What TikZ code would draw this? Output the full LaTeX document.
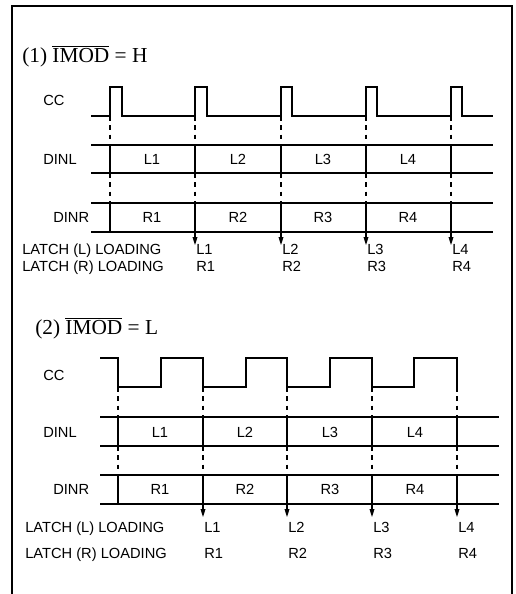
\documentclass[tikz,border=0pt]{standalone}
\usepackage{fontspec}
\setmainfont{Liberation Serif}
\setsansfont{Liberation Sans}
\usetikzlibrary{arrows.meta,positioning}

\begin{document}
\begin{tikzpicture}[
  x=0.75pt, y=-0.75pt,
  wave/.style={line width=1.4pt, line join=miter},
  bus/.style={line width=1.4pt},
  tick/.style={line width=0.8pt},
  guide/.style={line width=0.9pt, dash pattern=on 3.5pt off 3.5pt},
  ptr/.style={line width=0.8pt, -{Triangle[length=6pt,width=3.6pt]}},
  sig/.style={font=\sffamily\fontsize{11}{13}\selectfont, inner sep=0pt, anchor=base west},
  cell/.style={font=\sffamily\fontsize{11}{13}\selectfont, inner sep=0pt},
  title/.style={font=\fontsize{16}{19}\selectfont, inner sep=0pt, anchor=base west}
]
  \useasboundingbox (0,0) rectangle (516,594);

  % frame
  \draw[line width=1.4pt] (12,594) -- (12,6) -- (512,6) -- (512,594);

  % (1) IMOD = H
  \node[title] (title1) at (22,62) {(1) $\overline{\hbox{IMOD}}$ = H};
  \node[sig] (cc1)   at (43,105) {CC};
  \node[sig] (dinl1) at (43,164) {DINL};
  \node[sig] (dinr1) at (53,222) {DINR};
  \node[sig] (latl1) at (22,254) {LATCH (L) LOADING};
  \node[sig] (latr1) at (22,271) {LATCH (R) LOADING};

  \draw[wave] (91,116) -| (110,87) -| (122,116) -| (195,87) -| (207,116)
    -| (281,87) -| (292,116) -| (366,87) -| (377,116) -| (451,87)
    -| (462,116) -- (493,116);
  \draw[bus] (91,145) -- (493,145) (91,173) -- (493,173);
  \draw[bus] (91,203) -- (493,203) (91,232) -- (493,232);

  \foreach \i/\x in {1/110,2/195,3/281,4/366,5/451} {
    \draw[guide] (\x,116) -- (\x,145);
    \draw[tick]  (\x,145) -- (\x,173);
    \draw[guide] (\x,173) -- (\x,203);
    \coordinate (top1\i) at (\x,203);
    \coordinate (tip1\i) at (\x,245);
  }
  \draw[tick] (top11) -- (110,232);
  \foreach \i/\x [count=\j] in {2/195,3/281,4/366,5/451} {
    \draw[ptr] (top1\i) -- (tip1\i);
    \node[sig] (ll1\j) at (\x+1,254) {L\j};
    \node[sig] (rr1\j) at (\x+1,271) {R\j};
  }
  \foreach \j/\x in {1/152,2/238,3/323,4/408} {
    \node[cell] (dl1\j) at (\x,159) {L\j};
    \node[cell] (dr1\j) at (\x,217) {R\j};
  }

  % (2) IMOD = L
  \node[title] (title2) at (35,334) {(2) $\overline{\hbox{IMOD}}$ = L};
  \node[sig] (cc2)   at (43,380) {CC};
  \node[sig] (dinl2) at (43,437) {DINL};
  \node[sig] (dinr2) at (53,494) {DINR};
  \node[sig] (latl2) at (25,532) {LATCH (L) LOADING};
  \node[sig] (latr2) at (25,558) {LATCH (R) LOADING};

  \draw[wave] (100,358) -| (118,387) -| (161,358) -| (203,387) -| (246,358)
    -| (287,387) -| (330,358) -| (372,387) -| (414,358) -| (457,387);
  \draw[bus] (100,417) -- (499,417) (100,446) -- (499,446);
  \draw[bus] (100,475) -- (499,475) (100,504) -- (499,504);

  \foreach \i/\x in {1/118,2/203,3/287,4/372,5/457} {
    \draw[guide] (\x,387) -- (\x,417);
    \draw[tick]  (\x,417) -- (\x,446);
    \draw[guide] (\x,446) -- (\x,475);
    \coordinate (top2\i) at (\x,475);
    \coordinate (tip2\i) at (\x,517);
  }
  \draw[tick] (top21) -- (118,504);
  \foreach \i/\x [count=\j] in {2/203,3/287,4/372,5/457} {
    \draw[ptr] (top2\i) -- (tip2\i);
    \node[sig] (ll2\j) at (\x+1,532) {L\j};
    \node[sig] (rr2\j) at (\x+1,558) {R\j};
  }
  \foreach \j/\x in {1/160,2/245,3/330,4/415} {
    \node[cell] (dl2\j) at (\x,432) {L\j};
    \node[cell] (dr2\j) at (\x,489) {R\j};
  }
\end{tikzpicture}
\end{document}
